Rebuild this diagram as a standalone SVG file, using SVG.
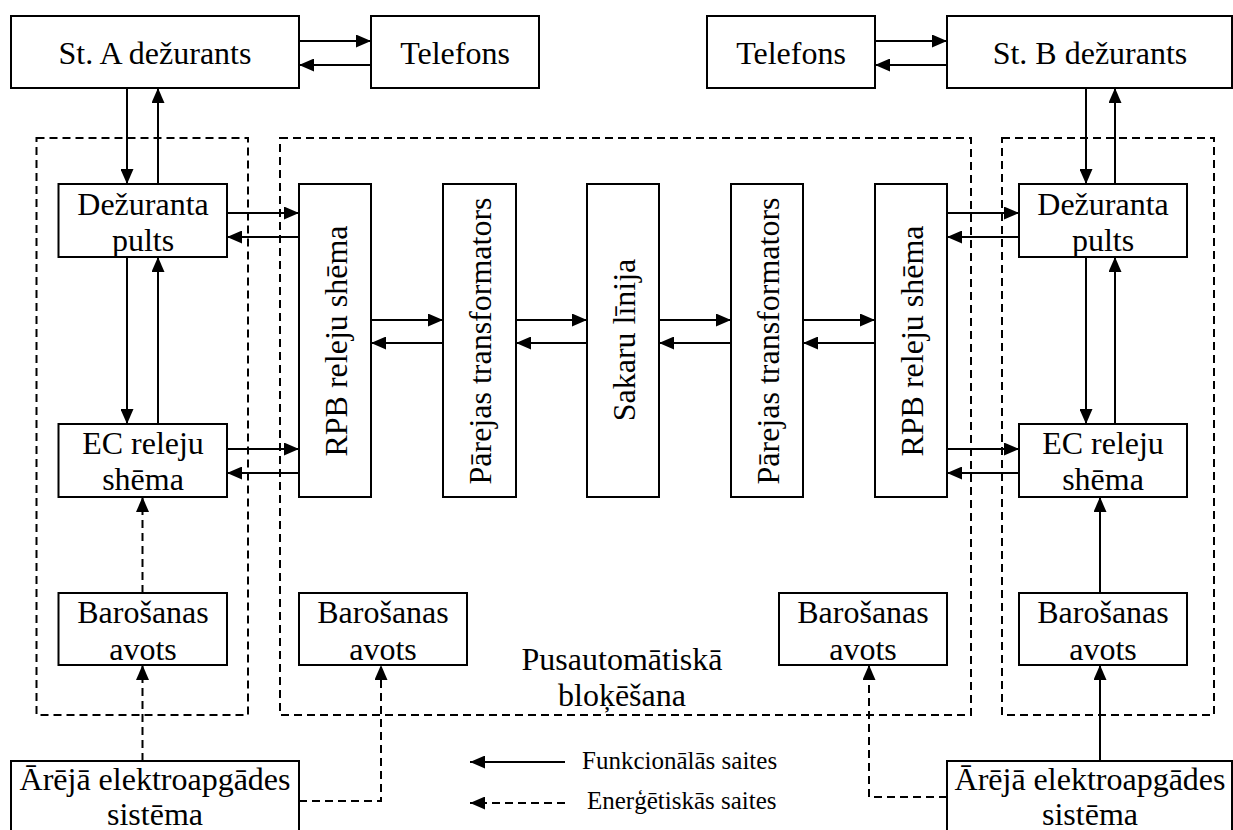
<svg xmlns="http://www.w3.org/2000/svg" width="1233" height="830" viewBox="0 0 1233 830">
<style>
.box{fill:#fff;stroke:#000;stroke-width:2}
.grp{fill:none;stroke:#000;stroke-width:2;stroke-dasharray:8 5}
.t{font-family:"Liberation Serif","Times New Roman",serif;font-size:32px;fill:#000;text-anchor:middle}
.lg{font-family:"Liberation Serif","Times New Roman",serif;font-size:25px;fill:#000}
.c{fill:none;stroke:#000;stroke-width:2;marker-end:url(#ah)}
.d{fill:none;stroke:#000;stroke-width:2;stroke-dasharray:8 5;marker-end:url(#ah)}
</style>
<defs>
<marker id="ah" markerUnits="userSpaceOnUse" markerWidth="15" markerHeight="13" refX="15" refY="6.5" orient="auto">
<path d="M0,0 L15,6.5 L0,13 Z" fill="#000" stroke="none"/>
</marker>
</defs>
<rect width="1233" height="830" fill="#fff"/>

<g id="groups">
<rect class="grp" x="36.5" y="138" width="211.5" height="577"/>
<rect class="grp" x="280" y="138" width="691" height="577"/>
<rect class="grp" x="1002" y="138" width="212" height="577"/>
</g>

<g id="stA"><rect class="box" x="11" y="16" width="288" height="72"/><text class="t" x="155" y="64">St. A dežurants</text></g>
<g id="telA"><rect class="box" x="371" y="16" width="168" height="72"/><text class="t" x="455" y="64">Telefons</text></g>
<g id="telB"><rect class="box" x="707" y="16" width="168" height="72"/><text class="t" x="791" y="64">Telefons</text></g>
<g id="stB"><rect class="box" x="947" y="16" width="285" height="72"/><text class="t" x="1090" y="64">St. B dežurants</text></g>

<g id="pultA"><rect class="box" x="58.5" y="184" width="168.5" height="73"/><text class="t" x="143" y="215">Dežuranta</text><text class="t" x="143" y="251">pults</text></g>
<g id="pultB"><rect class="box" x="1019" y="184" width="168" height="73"/><text class="t" x="1103" y="215">Dežuranta</text><text class="t" x="1103" y="251">pults</text></g>
<g id="ecA"><rect class="box" x="58.5" y="424" width="168.5" height="73"/><text class="t" x="143" y="454">EC releju</text><text class="t" x="143" y="490">shēma</text></g>
<g id="ecB"><rect class="box" x="1019" y="424" width="168" height="73"/><text class="t" x="1103" y="454">EC releju</text><text class="t" x="1103" y="490">shēma</text></g>

<g id="rpbA"><rect class="box" x="299" y="184" width="72" height="313"/><text class="t" transform="translate(347,341) rotate(-90)">RPB releju shēma</text></g>
<g id="parA"><rect class="box" x="443" y="184" width="73" height="313"/><text class="t" transform="translate(491,341) rotate(-90)">Pārejas transformators</text></g>
<g id="sakaru"><rect class="box" x="587" y="184" width="72" height="313"/><text class="t" transform="translate(635,340) rotate(-90)">Sakaru līnija</text></g>
<g id="parB"><rect class="box" x="731" y="184" width="72" height="313"/><text class="t" transform="translate(779,341) rotate(-90)">Pārejas transformators</text></g>
<g id="rpbB"><rect class="box" x="875" y="184" width="72" height="313"/><text class="t" transform="translate(923,341) rotate(-90)">RPB releju shēma</text></g>

<g id="barA"><rect class="box" x="58.5" y="593" width="168.5" height="72"/><text class="t" x="143" y="623">Barošanas</text><text class="t" x="143" y="660">avots</text></g>
<g id="barM1"><rect class="box" x="299" y="593" width="168" height="72"/><text class="t" x="383" y="623">Barošanas</text><text class="t" x="383" y="660">avots</text></g>
<g id="barM2"><rect class="box" x="779" y="593" width="168" height="72"/><text class="t" x="863" y="623">Barošanas</text><text class="t" x="863" y="660">avots</text></g>
<g id="barB"><rect class="box" x="1019" y="593" width="168" height="72"/><text class="t" x="1103" y="623">Barošanas</text><text class="t" x="1103" y="660">avots</text></g>

<g id="extA"><rect class="box" x="11" y="761" width="288" height="80"/><text class="t" x="155" y="790">Ārējā elektroapgādes</text><text class="t" x="155" y="825">sistēma</text></g>
<g id="extB"><rect class="box" x="947" y="761" width="285" height="80"/><text class="t" x="1090" y="790">Ārējā elektroapgādes</text><text class="t" x="1090" y="825">sistēma</text></g>

<g id="label"><text class="t" x="622" y="670">Pusautomātiskā</text><text class="t" x="622" y="706">bloķēšana</text></g>

<g id="connectors">
<path class="c" d="M299,41 H371"/>
<path class="c" d="M371,65 H299"/>
<path class="c" d="M875,41 H947"/>
<path class="c" d="M947,65 H875"/>

<path class="c" d="M127,88 V184"/>
<path class="c" d="M158,184 V88"/>
<path class="c" d="M127,257 V424"/>
<path class="c" d="M158,424 V257"/>
<path class="c" d="M1086,88 V184"/>
<path class="c" d="M1115,184 V88"/>
<path class="c" d="M1086,257 V424"/>
<path class="c" d="M1115,424 V257"/>

<path class="c" d="M227,213 H299"/>
<path class="c" d="M299,237 H227"/>
<path class="c" d="M227,449 H299"/>
<path class="c" d="M299,473 H227"/>
<path class="c" d="M947,213 H1019"/>
<path class="c" d="M1019,237 H947"/>
<path class="c" d="M947,449 H1019"/>
<path class="c" d="M1019,473 H947"/>

<path class="c" d="M371,320 H443"/>
<path class="c" d="M443,343 H371"/>
<path class="c" d="M516,320 H587"/>
<path class="c" d="M587,343 H516"/>
<path class="c" d="M659,320 H731"/>
<path class="c" d="M731,343 H659"/>
<path class="c" d="M803,320 H875"/>
<path class="c" d="M875,343 H803"/>

<path class="d" d="M142.5,593 V497"/>
<path class="d" d="M142.5,761 V665"/>
<path class="d" d="M299,801 H381 V665"/>
<path class="d" d="M947,797 H869 V665"/>
<path class="c" d="M1100,761 V665"/>
<path class="c" d="M1100,593 V497"/>
</g>

<g id="legend">
<path class="c" d="M565,762 H470"/>
<path class="d" d="M565,803 H470"/>
<text class="lg" x="582" y="769">Funkcionālās saites</text>
<text class="lg" x="587" y="809">Enerģētiskās saites</text>
</g>
</svg>
